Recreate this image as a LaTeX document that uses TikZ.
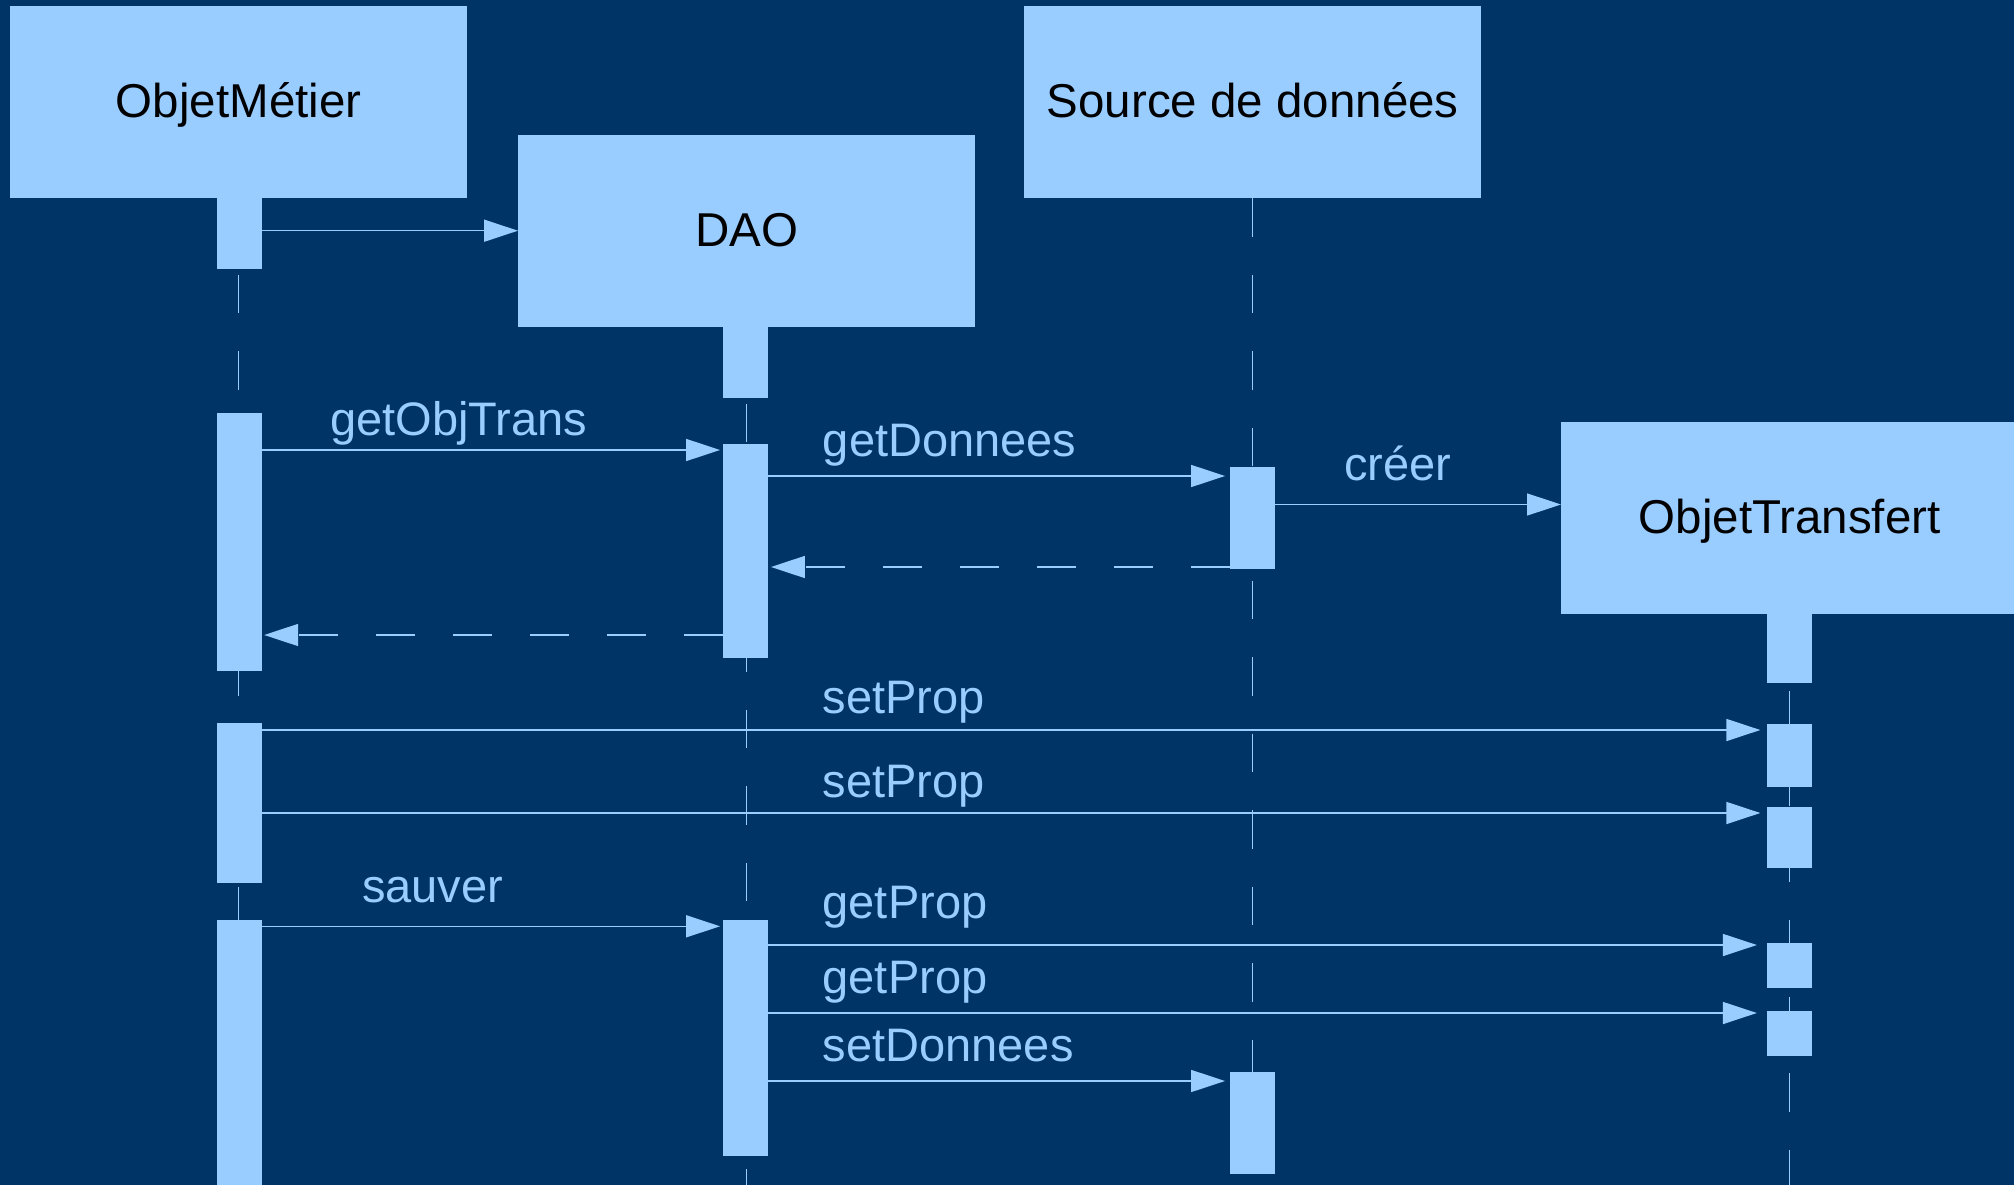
\documentclass[tikz,border=0pt]{standalone}
\usepackage{fontspec}
\setmainfont{Liberation Sans}
\usetikzlibrary{arrows.meta}
\definecolor{bg}{HTML}{003366}
\definecolor{lb}{HTML}{99CCFF}
\tikzset{
  objbox/.style={fill=lb, draw=none, minimum width=457pt, minimum height=192pt, inner sep=0pt,
    text=black, font=\fontsize{47.5}{57}\selectfont, text height=30pt, text depth=0pt, anchor=north west},
  actbox/.style={fill=lb, draw=none, minimum width=44.5pt, inner sep=0pt, anchor=north},
  lifeline/.style={draw=lb, line width=1.2pt, dash pattern=on 38.25pt off 38.25pt},
  msgline/.style={draw=lb, line width=1.5pt, -{Triangle[length=34pt,width=22pt]}},
  retline/.style={msgline, dash pattern=on 39pt off 38pt},
  msglabel/.style={text=lb, inner sep=0pt, anchor=base west, font=\fontsize{47}{56}\selectfont},
}
\begin{document}
\begin{tikzpicture}[x=1pt,y=-1pt]
\useasboundingbox (0,0) rectangle (2014,1185);
\clip (0,0) rectangle (2014,1185);
\fill[bg] (0,0) rectangle (2014,1185);

% object boxes
\node[objbox] (om) at (10,6) {ObjetMétier};
\node[objbox] (dao) at (518,135) {DAO};
\node[objbox] (src) at (1024,6) {Source de données};
\node[objbox] (ot) at (1561,422) {ObjetTransfert};

% lifelines
\draw[lifeline] (om.south) -- (om.south |- 0,1190);
\draw[lifeline] (dao.south) -- (dao.south |- 0,1190);
\draw[lifeline] (src.south) -- (src.south |- 0,1190);
\draw[lifeline] (ot.south) -- (ot.south |- 0,1190);

% activations ObjetMetier
\node[actbox, minimum height=71pt] (om1) at (239.25,198) {};
\node[actbox, minimum height=258pt] (om2) at (239.25,413) {};
\node[actbox, minimum height=160pt] (om3) at (239.25,723) {};
\node[actbox, minimum height=280pt] (om4) at (239.25,920) {};
% activations DAO
\node[actbox, minimum height=72pt] (d1) at (745.5,326) {};
\node[actbox, minimum height=214pt] (d2) at (745.5,444) {};
\node[actbox, minimum height=236pt] (d3) at (745.5,920) {};
% activations Source
\node[actbox, minimum height=102.5pt] (s1) at (1252.5,466.5) {};
\node[actbox, minimum height=102.5pt] (s2) at (1252.5,1071.5) {};
% activations ObjetTransfert
\node[actbox, minimum height=70pt] (t0) at (1789.3,613) {};
\node[actbox, minimum height=63pt] (t1) at (1789.3,723.4) {};
\node[actbox, minimum height=60.7pt] (t2) at (1789.3,806.7) {};
\node[actbox, minimum height=45pt] (t3) at (1789.3,943) {};
\node[actbox, minimum height=45pt] (t4) at (1789.3,1011) {};

% messages
\draw[msgline] (om1.east |- 0,230.7) -- (dao.west |- 0,230.7);
\draw[msgline, shorten >=3pt] (om2.east |- 0,450) -- (d2.west |- 0,450);
\draw[msgline, shorten >=5pt] (d2.east |- 0,476) -- (s1.west |- 0,476);
\draw[msgline] (s1.east |- 0,504.5) -- (ot.west |- 0,504.5);
\draw[retline, shorten >=3pt] (s1.west |- 0,567) -- (d2.east |- 0,567);
\draw[retline, shorten >=2.5pt] (d2.west |- 0,635) -- (om2.east |- 0,635);
\draw[msgline, shorten >=6.5pt] (om3.east |- 0,730) -- (t1.west |- 0,730);
\draw[msgline, shorten >=6.5pt] (om3.east |- 0,813) -- (t2.west |- 0,813);
\draw[msgline, shorten >=3pt] (om4.east |- 0,926.3) -- (d3.west |- 0,926.3);
\draw[msgline, shorten >=10pt] (d3.east |- 0,945) -- (t3.west |- 0,945);
\draw[msgline, shorten >=10pt] (d3.east |- 0,1013) -- (t4.west |- 0,1013);
\draw[msgline, shorten >=5pt] (d3.east |- 0,1081) -- (s2.west |- 0,1081);

% labels
\node[msglabel] (l1) at (330,435) {getObjTrans};
\node[msglabel] (l2) at (822.7,456) {getDonnees};
\node[msglabel] (l3) at (1344,480) {créer};
\node[msglabel] (l4) at (822.5,713.3) {setProp};
\node[msglabel] (l5) at (822.5,797.7) {setProp};
\node[msglabel] (l6) at (362,902.7) {sauver};
\node[msglabel] (l7) at (822.5,918.3) {getProp};
\node[msglabel] (l8) at (822.5,993.3) {getProp};
\node[msglabel] (l9) at (822.5,1061.7) {setDonnees};
\end{tikzpicture}
\end{document}
